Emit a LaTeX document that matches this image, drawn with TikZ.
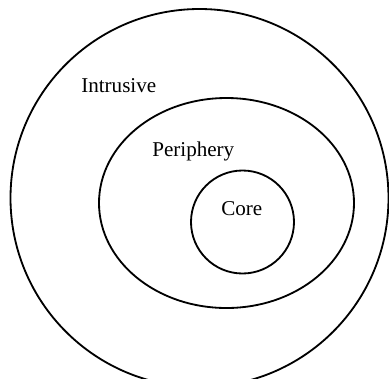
\documentclass[tikz,border=0pt]{standalone}
\usepackage{fontspec}
\setmainfont{Liberation Serif}
\usepackage{tikz}
\tikzset{
  ring/.style  = {draw=black, line width=1.3pt},
  layer/.style = {anchor=base west, inner sep=0pt, font=\fontsize{15}{18}\selectfont}
}

\begin{document}
\begin{tikzpicture}[x=0.025cm,y=-0.025cm]
  \useasboundingbox (0,0) rectangle (389,378);
  \clip (0,0) rectangle (389,378);
  \draw[ring] (199.5,198) ellipse [x radius=189, y radius=189];
  \draw[ring] (226.5,203) ellipse [x radius=127.5, y radius=105];
  \draw[ring] (242.5,222) circle [radius=51.5];
  \node[layer] (intrusive) at (81,92)  {Intrusive};
  \node[layer] (periphery) at (152,156) {Periphery};
  \node[layer] (core)      at (221,215) {Core};
\end{tikzpicture}
\end{document}
